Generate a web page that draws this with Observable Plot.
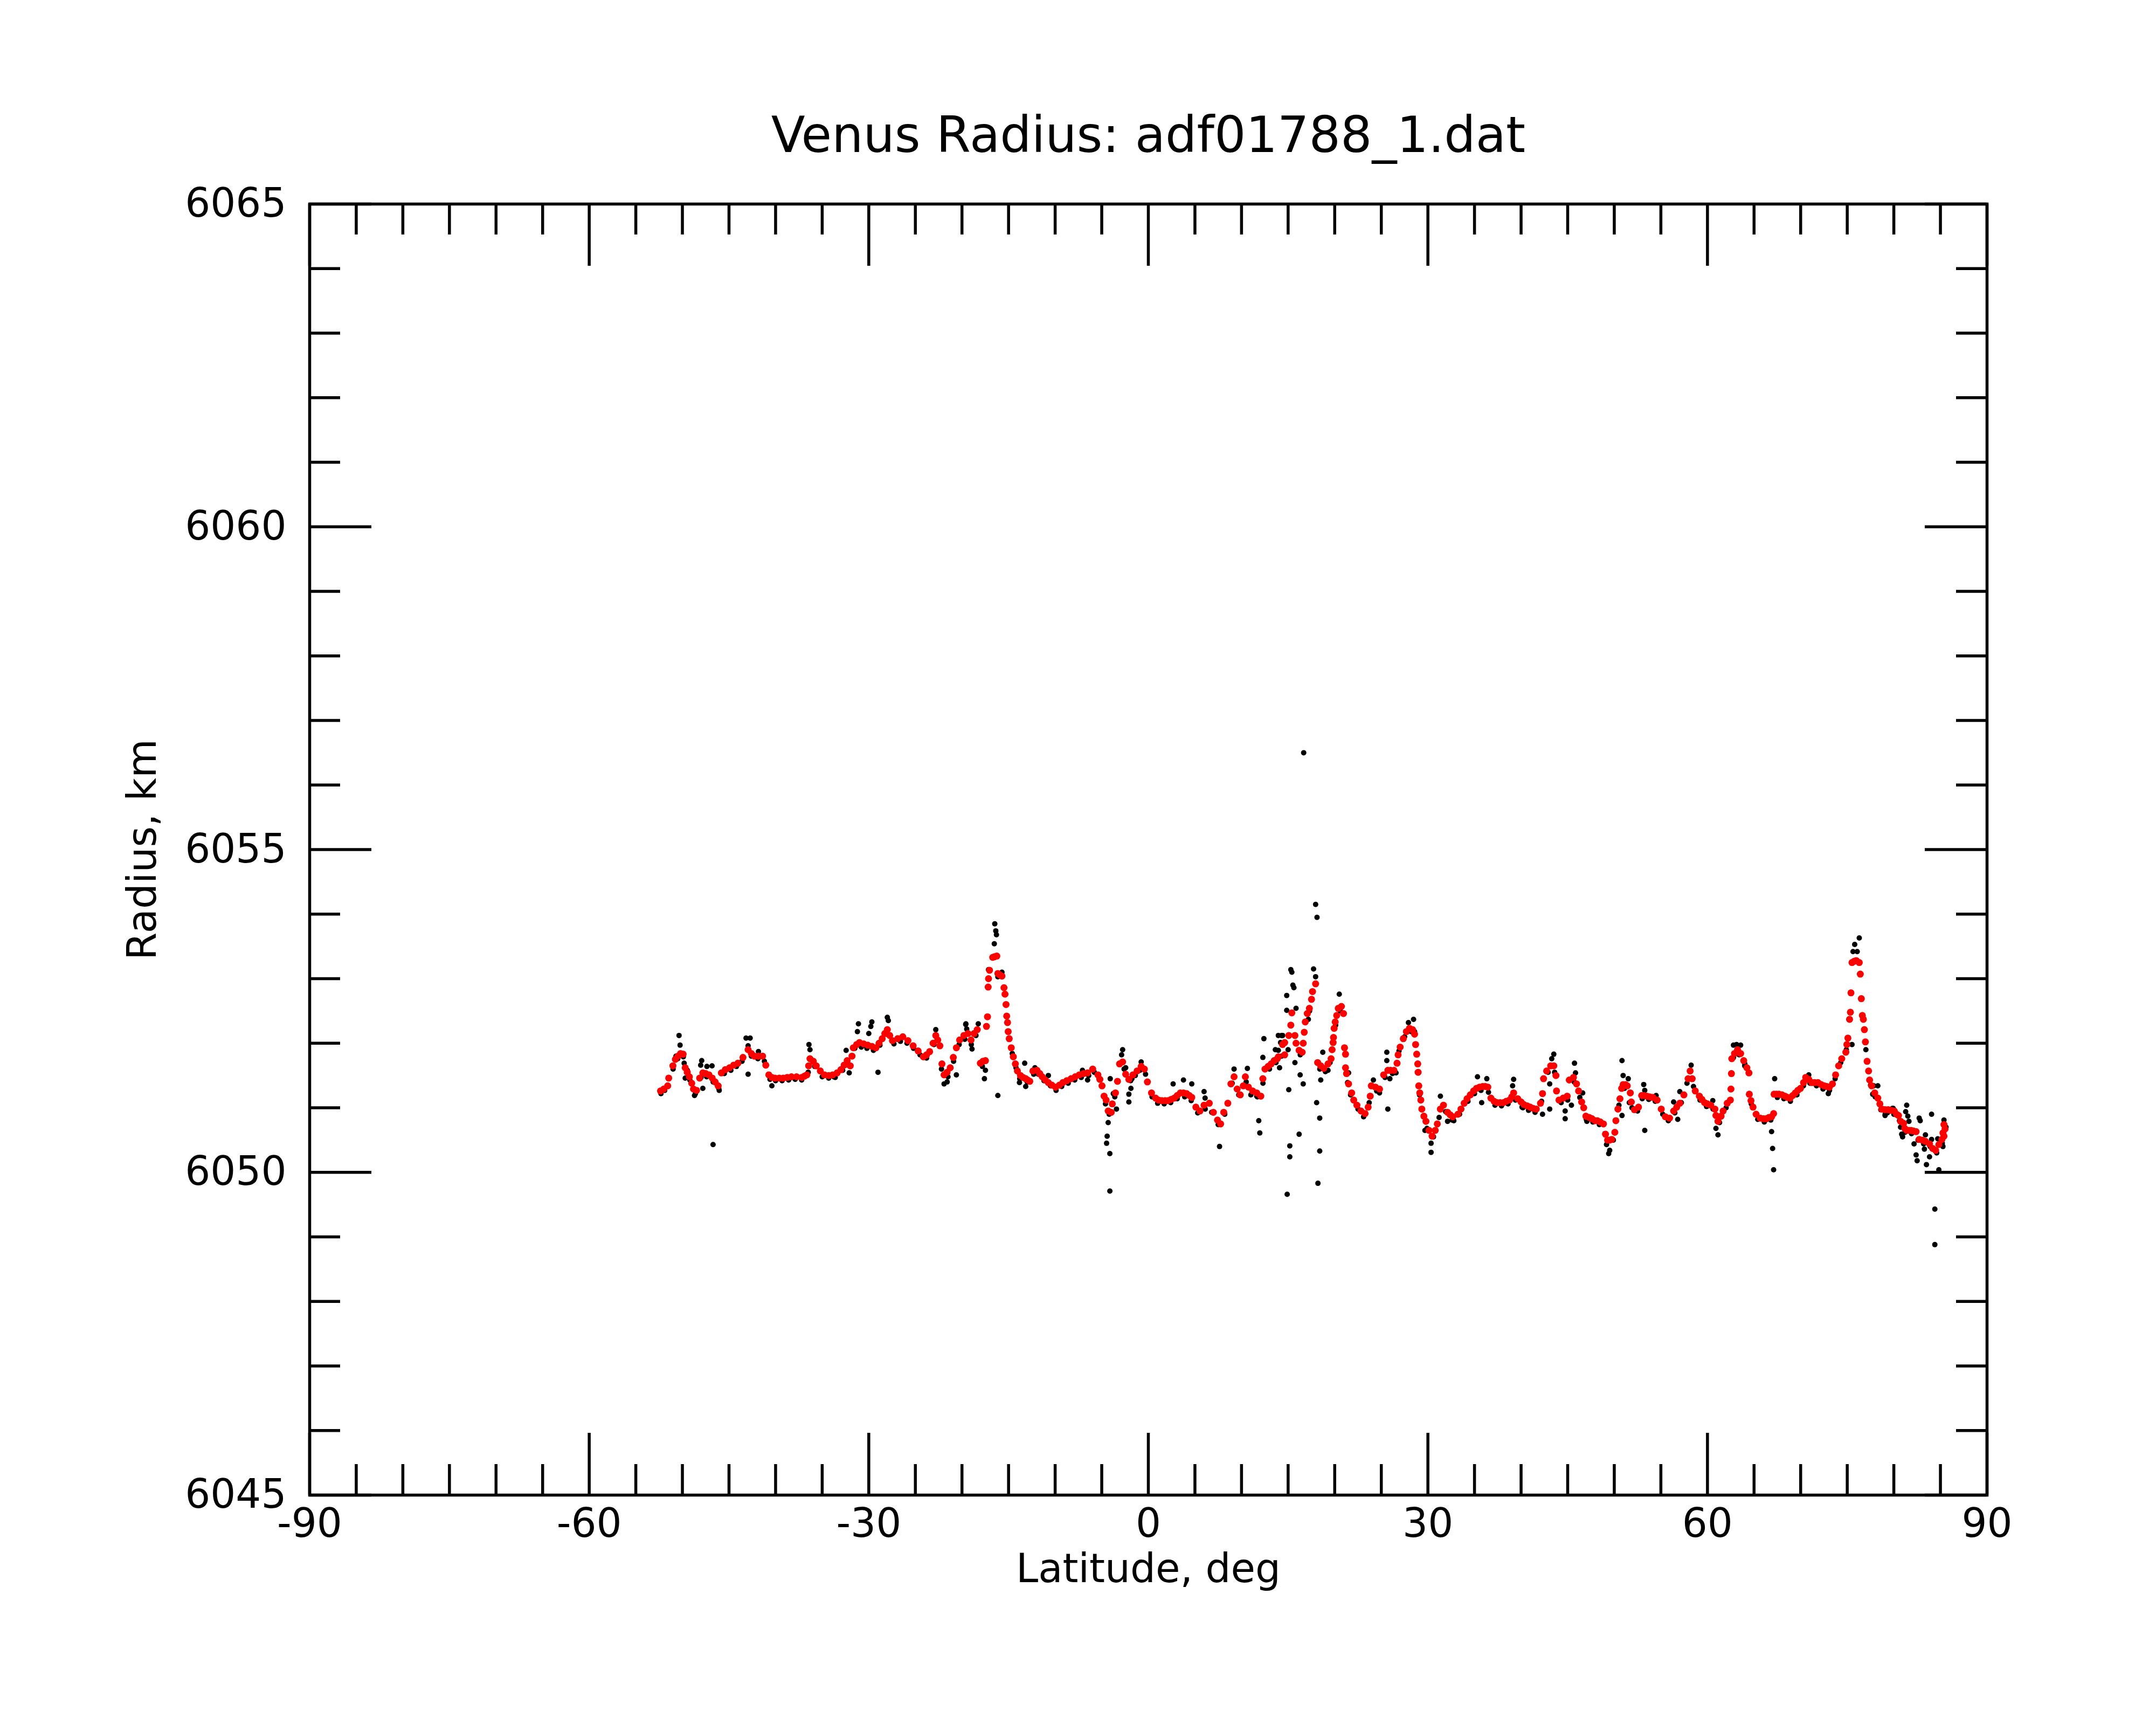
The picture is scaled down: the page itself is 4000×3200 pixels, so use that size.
<!DOCTYPE html>
<html>
<head>
<meta charset="utf-8">
<script src="https://cdn.jsdelivr.net/npm/d3@7"></script>
<script src="https://cdn.jsdelivr.net/npm/@observablehq/plot@0.6"></script>
<style>
  html, body { margin: 0; padding: 0; background: #fff; }
</style>
</head>
<body>
<div id="chart"></div>
<script>
const titleText = "Venus Radius: adf01788_1.dat";
const xLabel = "Latitude, deg";
const yLabel = "Radius, km";
const xMajorTicks = [-90, -60, -30, 0, 30, 60, 90];
const xMinorTicks = [-85,-80,-75,-70,-65,-55,-50,-45,-40,-35,-25,-20,-15,-10,-5,5,10,15,20,25,35,40,45,50,55,65,70,75,80,85];
const yMajorTicks = [6045, 6050, 6055, 6060, 6065];
const yMinorTicks = [6046,6047,6048,6049,6051,6052,6053,6054,6056,6057,6058,6059,6061,6062,6063,6064];

// smoothed radius (red), [latitude, radius]
const smoothed = [
[-52.35,6051.26],[-52.0,6051.29],[-51.58,6051.34],[-51.47,6051.46],[-51.02,6051.65],[-50.75,6051.75],[-50.47,6051.80],[-50.2,6051.84],[-49.92,6051.83],[-49.70,6051.62],[-49.48,6051.55],[-49.25,6051.48],[-49.0,6051.38],[-48.81,6051.29],[-48.48,6051.27],[-48.15,6051.46],[-47.81,6051.54],[-47.5,6051.53],[-47.15,6051.51],[-46.8,6051.46],[-46.49,6051.40],[-46.16,6051.34],[-45.82,6051.54],[-45.4,6051.59],[-44.94,6051.62],[-44.5,6051.66],[-44.05,6051.69],[-43.5,6051.78],[-42.95,6051.90],[-42.6,6051.84],[-42.28,6051.80],[-41.85,6051.80],[-41.40,6051.80],[-41.05,6051.66],[-40.73,6051.51],[-40.4,6051.47],[-40.07,6051.46],[-39.6,6051.46],[-39.18,6051.46],[-38.75,6051.47],[-38.30,6051.48],[-37.75,6051.48],[-37.19,6051.47],[-36.9,6051.49],[-36.64,6051.51],[-36.45,6051.65],[-36.31,6051.76],[-35.95,6051.72],[-35.64,6051.65],[-35.2,6051.57],[-34.76,6051.51],[-34.3,6051.50],[-33.87,6051.51],[-33.4,6051.54],[-32.99,6051.59],[-32.65,6051.66],[-32.32,6051.73],[-31.99,6051.65],[-31.8,6051.80],[-31.66,6051.93],[-31.3,6051.98],[-31.0,6052.01],[-30.55,6051.99],[-30.11,6051.97],[-29.65,6051.95],[-29.23,6051.93],[-28.9,6052.00],[-28.56,6052.07],[-28.28,6052.15],[-28.01,6052.21],[-27.75,6052.12],[-27.46,6052.04],[-26.9,6052.07],[-26.35,6052.10],[-25.8,6052.04],[-25.24,6051.96],[-24.7,6051.88],[-24.14,6051.79],[-23.8,6051.82],[-23.47,6051.87],[-23.1,6052.00],[-22.81,6052.12],[-22.6,6052.05],[-22.37,6051.96],[-22.15,6051.68],[-21.92,6051.51],[-21.6,6051.55],[-21.26,6051.62],[-20.93,6051.78],[-20.60,6051.93],[-20.25,6052.05],[-19.80,6052.12],[-19.36,6052.15],[-19.03,6052.05],[-18.70,6052.15],[-18.36,6052.21],[-18.03,6051.69],[-17.75,6051.72],[-17.48,6051.73],[-17.37,6052.26],[-17.26,6052.41],[-17.19,6052.87],[-17.15,6053.00],[-17.04,6053.13],[-16.70,6053.33],[-16.5,6053.34],[-16.26,6053.35],[-16.15,6053.08],[-15.95,6053.06],[-15.71,6053.04],[-15.49,6052.86],[-15.38,6052.76],[-15.27,6052.60],[-15.20,6052.42],[-15.11,6052.32],[-15.04,6052.18],[-14.93,6052.07],[-14.71,6051.93],[-14.49,6051.79],[-14.27,6051.68],[-14.05,6051.57],[-13.72,6051.50],[-13.45,6051.47],[-13.16,6051.45],[-12.95,6051.43],[-12.72,6051.41],[-12.39,6051.57],[-11.95,6051.58],[-11.65,6051.53],[-11.39,6051.48],[-11.05,6051.43],[-10.73,6051.39],[-10.35,6051.35],[-9.95,6051.32],[-9.55,6051.35],[-9.18,6051.39],[-8.75,6051.42],[-8.29,6051.45],[-7.85,6051.48],[-7.41,6051.51],[-6.95,6051.53],[-6.52,6051.54],[-5.97,6051.60],[-5.41,6051.51],[-5.2,6051.44],[-4.97,6051.34],[-4.75,6051.18],[-4.53,6051.12],[-4.31,6050.95],[-3.98,6050.93],[-3.87,6051.06],[-3.53,6051.23],[-3.31,6051.41],[-3.09,6051.68],[-2.76,6051.71],[-2.43,6051.52],[-2.09,6051.44],[-1.65,6051.51],[-1.21,6051.57],[-0.77,6051.64],[-0.43,6051.60],[-0.10,6051.40],[0.34,6051.23],[0.78,6051.15],[1.1,6051.12],[1.45,6051.11],[1.8,6051.11],[2.11,6051.11],[2.45,6051.13],[2.78,6051.15],[3.1,6051.19],[3.44,6051.23],[3.77,6051.23],[4.10,6051.22],[4.4,6051.19],[4.66,6051.16],[5.10,6051.01],[5.54,6050.95],[5.98,6051.04],[6.54,6051.07],[6.98,6050.93],[7.42,6050.81],[7.76,6050.75],[8.09,6050.93],[8.53,6051.07],[8.86,6051.37],[9.20,6051.48],[9.53,6051.29],[9.86,6051.20],[10.19,6051.34],[10.41,6051.48],[10.74,6051.32],[11.19,6051.26],[11.63,6051.23],[12.07,6051.18],[12.29,6051.45],[12.52,6051.60],[12.85,6051.64],[13.18,6051.68],[13.5,6051.73],[13.84,6051.76],[13.96,6051.79],[14.40,6051.98],[14.63,6051.82],[14.63,6052.01],[15.07,6052.12],[15.29,6052.28],[15.40,6052.47],[15.73,6052.12],[15.85,6052.00],[16.18,6051.89],[16.51,6051.86],[16.62,6052.00],[16.73,6052.17],[16.84,6052.33],[17.06,6052.46],[17.28,6052.54],[17.51,6052.68],[17.62,6052.80],[17.95,6052.92],[18.17,6051.70],[18.50,6051.65],[18.83,6051.61],[19.28,6051.68],[19.61,6051.76],[19.72,6051.90],[19.83,6052.01],[19.87,6052.09],[19.94,6052.23],[20.05,6052.33],[20.21,6052.43],[20.38,6052.54],[20.72,6052.57],[20.94,6052.46],[21.05,6051.93],[21.16,6051.83],[21.16,6051.62],[21.27,6051.53],[21.49,6051.37],[21.82,6051.23],[22.04,6051.12],[22.38,6051.04],[22.82,6050.95],[23.26,6050.91],[23.59,6051.01],[23.81,6051.18],[23.93,6051.34],[24.37,6051.32],[24.81,6051.29],[25.25,6051.51],[25.70,6051.58],[26.0,6051.58],[26.36,6051.58],[26.69,6051.69],[26.80,6051.82],[27.02,6051.94],[27.36,6052.07],[27.69,6052.18],[28.02,6052.23],[28.35,6052.21],[28.57,6052.14],[28.68,6051.98],[28.80,6051.83],[28.91,6051.68],[28.95,6051.55],[29.02,6051.34],[29.13,6051.23],[29.24,6051.12],[29.35,6050.98],[29.57,6050.87],[29.79,6050.79],[30.12,6050.65],[30.45,6050.56],[30.79,6050.65],[31.01,6050.75],[31.34,6050.98],[31.67,6051.04],[32.11,6050.93],[32.4,6050.89],[32.67,6050.86],[33.22,6050.90],[33.55,6050.98],[33.89,6051.07],[34.2,6051.14],[34.55,6051.20],[34.9,6051.26],[35.21,6051.30],[35.55,6051.32],[35.88,6051.33],[36.15,6051.33],[36.43,6051.32],[36.76,6051.15],[37.1,6051.10],[37.43,6051.08],[37.75,6051.08],[38.09,6051.08],[38.4,6051.10],[38.76,6051.12],[39.0,6051.17],[39.20,6051.23],[39.64,6051.14],[40.0,6051.09],[40.30,6051.05],[40.65,6051.03],[40.97,6051.01],[41.3,6050.99],[41.63,6050.98],[42.08,6051.07],[42.30,6051.22],[42.41,6051.45],[42.74,6051.57],[43.18,6051.65],[43.51,6051.65],[43.74,6051.50],[43.80,6051.26],[44.07,6051.12],[44.51,6051.15],[44.95,6051.18],[45.17,6051.43],[45.62,6051.47],[45.95,6051.37],[46.17,6051.26],[46.50,6051.09],[46.72,6051.00],[46.95,6050.87],[47.3,6050.85],[47.61,6050.83],[47.94,6050.80],[48.18,6050.80],[48.5,6050.78],[48.84,6050.75],[49.06,6050.59],[49.28,6050.50],[49.5,6050.50],[49.73,6050.51],[50.06,6050.62],[50.17,6050.80],[50.39,6050.98],[50.61,6051.14],[50.79,6051.30],[50.95,6051.36],[51.2,6051.36],[51.39,6051.34],[51.72,6051.23],[51.83,6051.09],[52.16,6050.97],[52.60,6051.01],[52.94,6051.19],[53.2,6051.19],[53.49,6051.18],[53.8,6051.17],[54.15,6051.16],[54.60,6051.12],[55.04,6050.98],[55.48,6050.86],[55.93,6050.84],[56.37,6050.95],[56.7,6051.01],[57.03,6051.07],[57.47,6051.20],[57.92,6051.45],[58.14,6051.57],[58.36,6051.45],[58.69,6051.26],[59.13,6051.18],[59.4,6051.13],[59.69,6051.08],[60.0,6051.06],[60.35,6051.04],[60.80,6050.98],[60.91,6050.88],[61.13,6050.79],[61.46,6050.87],[61.68,6050.95],[62.12,6051.07],[62.46,6051.12],[62.52,6051.29],[62.57,6051.53],[62.61,6051.76],[62.90,6051.84],[63.23,6051.90],[63.56,6051.84],[63.89,6051.73],[64.23,6051.62],[64.45,6051.54],[64.49,6051.21],[64.67,6051.11],[64.89,6051.01],[65.22,6050.90],[65.66,6050.84],[66.0,6050.83],[66.33,6050.83],[66.6,6050.85],[66.88,6050.86],[67.10,6050.91],[67.15,6051.21],[67.40,6051.21],[67.66,6051.21],[68.0,6051.20],[68.32,6051.18],[68.6,6051.16],[68.87,6051.15],[69.15,6051.19],[69.43,6051.23],[69.7,6051.27],[69.98,6051.30],[70.31,6051.39],[70.54,6051.47],[70.87,6051.44],[71.20,6051.39],[71.5,6051.39],[71.86,6051.39],[72.2,6051.36],[72.53,6051.34],[72.8,6051.33],[73.08,6051.32],[73.41,6051.37],[73.75,6051.51],[74.08,6051.65],[74.41,6051.76],[74.85,6051.86],[74.96,6051.98],[75.07,6052.08],[75.25,6052.37],[75.34,6052.48],[75.40,6052.78],[75.51,6053.25],[75.75,6053.27],[75.96,6053.28],[76.29,6053.25],[76.40,6053.07],[76.51,6052.69],[76.62,6052.43],[76.73,6052.37],[76.84,6052.21],[76.95,6052.02],[77.13,6051.72],[77.29,6051.57],[77.40,6051.43],[77.62,6051.34],[77.95,6051.23],[78.28,6051.15],[78.5,6051.06],[78.72,6050.98],[79.05,6050.97],[79.39,6050.97],[79.7,6050.96],[80.05,6050.95],[80.29,6050.90],[80.50,6050.88],[80.73,6050.79],[81.05,6050.76],[81.17,6050.68],[81.38,6050.65],[81.62,6050.65],[81.84,6050.65],[82.1,6050.64],[82.39,6050.63],[82.72,6050.51],[83.05,6050.50],[83.39,6050.48],[83.83,6050.44],[84.16,6050.37],[84.49,6050.34],[84.83,6050.43],[85.16,6050.51],[85.27,6050.61],[85.38,6050.56],[85.49,6050.67],[85.38,6050.74]
];

// raw radius samples (black), [latitude, radius]
const raw = [
[-52.3,6051.22],[-51.9,6051.27],[-51.0,6051.6],[-50.5,6051.76],[-49.9,6051.79],[-49.2,6051.43],[-48.6,6051.22],[-48.0,6051.47],[-47.4,6051.48],[-46.7,6051.40],[-46.1,6051.3],[-45.5,6051.53],[-44.8,6051.58],[-44.2,6051.64],[-43.6,6051.72],[-42.6,6051.80],[-41.9,6051.76],[-41.2,6051.72],[-40.6,6051.44],[-40.0,6051.42],[-39.3,6051.42],[-38.6,6051.43],[-37.9,6051.44],[-37.2,6051.43],[-36.5,6051.55],[-35.8,6051.64],[-35.0,6051.48],[-34.3,6051.46],[-33.6,6051.47],[-32.8,6051.58],[-32.2,6051.66],[-31.5,6051.92],[-30.8,6051.94],[-30.2,6051.92],[-29.5,6051.89],[-28.8,6051.97],[-28.1,6052.14],[-27.3,6051.99],[-26.6,6052.03],[-25.9,6052.0],[-25.2,6051.92],[-24.5,6051.82],[-23.8,6051.77],[-23.0,6051.98],[-22.2,6051.6],[-21.5,6051.48],[-20.9,6051.72],[-20.3,6051.98],[-19.7,6052.06],[-19.0,6051.98],[-18.5,6052.12],[-14.6,6051.84],[-14.2,6051.62],[-13.8,6051.45],[-13.0,6051.40],[-12.3,6051.52],[-11.8,6051.52],[-11.2,6051.42],[-10.5,6051.34],[-9.9,6051.27],[-9.3,6051.33],[-8.6,6051.38],[-7.9,6051.43],[-7.2,6051.47],[-6.4,6051.5],[-5.8,6051.55],[-5.3,6051.45],[-4.6,6051.06],[-4.2,6050.9],[-3.6,6051.17],[-2.6,6051.6],[-1.9,6051.42],[-1.4,6051.5],[-0.9,6051.58],[-0.3,6051.52],[0.4,6051.17],[1.0,6051.07],[1.7,6051.06],[2.4,6051.08],[3.1,6051.14],[3.9,6051.17],[4.6,6051.11],[5.3,6050.92],[6.1,6050.98],[6.8,6050.93],[7.5,6050.74],[8.2,6050.9],[9.0,6051.38],[9.7,6051.2],[10.5,6051.4],[11.0,6051.2],[11.7,6051.17],[12.3,6051.38],[13.0,6051.6],[13.7,6051.7],[14.3,6051.8],[15.0,6051.9],[16.3,6051.82],[17.3,6052.5],[18.4,6051.6],[19.0,6051.56],[19.5,6051.7],[20.1,6052.28],[20.6,6052.5],[21.7,6051.2],[22.5,6050.98],[23.1,6050.86],[23.7,6051.08],[24.5,6051.26],[25.4,6051.47],[26.2,6051.53],[26.9,6051.88],[27.5,6052.1],[28.2,6052.18],[29.1,6051.2],[29.9,6050.68],[30.6,6050.55],[31.2,6050.85],[31.9,6050.94],[32.6,6050.81],[33.4,6050.9],[34.3,6051.1],[35.0,6051.22],[35.7,6051.27],[36.5,6051.24],[37.2,6051.04],[37.9,6051.03],[38.6,6051.06],[39.4,6051.12],[40.1,6051.01],[40.8,6050.96],[41.5,6050.93],[42.2,6051.1],[42.9,6051.55],[43.6,6051.55],[44.3,6051.08],[45.0,6051.12],[45.7,6051.4],[46.3,6051.16],[47.0,6050.82],[47.7,6050.78],[48.4,6050.74],[49.0,6050.6],[49.9,6050.5],[50.5,6051.04],[51.1,6051.3],[51.9,6051.0],[52.5,6050.95],[53.0,6051.14],[53.7,6051.13],[54.4,6051.1],[55.2,6050.9],[55.8,6050.8],[56.5,6050.92],[57.2,6051.08],[57.8,6051.38],[58.5,6051.33],[59.2,6051.12],[59.9,6051.02],[60.6,6050.98],[61.3,6050.77],[62.0,6051.0],[62.8,6051.78],[63.4,6051.82],[64.0,6051.65],[64.7,6051.06],[65.4,6050.82],[66.1,6050.78],[66.8,6050.81],[67.5,6051.16],[68.2,6051.14],[68.9,6051.1],[69.6,6051.2],[70.3,6051.34],[71.0,6051.38],[71.7,6051.34],[72.4,6051.29],[73.1,6051.27],[73.7,6051.45],[74.3,6051.7],[74.9,6051.9],[77.0,6051.9],[77.5,6051.35],[78.0,6051.17],[78.6,6050.97],[79.3,6050.92],[80.0,6050.9],[80.6,6050.8],[81.2,6050.62],[81.9,6050.6],[82.6,6050.5],[83.2,6050.44],[83.9,6050.4],[84.6,6050.3],[85.2,6050.45],
[-50.36,6052.12],[-50.25,6051.97],[-50.69,6051.80],[-49.81,6051.69],[-49.70,6051.46],[-49.47,6051.58],[-48.70,6051.19],[-47.93,6051.73],[-48.04,6051.66],[-47.37,6051.64],[-46.82,6051.65],[-47.81,6051.30],[-46.71,6050.43],[-46.05,6051.27],[-43.17,6052.08],[-42.73,6052.08],[-42.95,6051.96],[-42.95,6051.52],[-41.84,6051.87],[-40.40,6051.34],[-36.42,6051.98],[-36.31,6051.90],[-33.76,6051.48],[-32.43,6051.89],[-32.10,6051.54],[-31.11,6052.30],[-31.22,6052.18],[-29.67,6052.33],[-29.78,6052.26],[-30.0,6052.15],[-29.01,6051.55],[-30.33,6051.96],[-28.01,6052.40],[-27.90,6052.35],[-22.81,6052.21],[-21.92,6051.37],[-21.59,6051.40],[-19.60,6052.29],[-19.49,6052.22],[-20.60,6051.51],
[-16.48,6053.85],[-16.37,6053.74],[-16.30,6053.68],[-16.53,6053.54],[-17.15,6053.14],[-15.71,6053.10],[-16.15,6053.03],[-19.58,6052.30],[-18.25,6052.30],[-18.92,6051.91],[-17.59,6051.45],[-17.48,6051.58],[-16.15,6051.19],[-17.81,6051.64],[-13.83,6051.39],[-13.27,6051.69],[-13.16,6051.33],[-12.17,6051.62],[-10.73,6051.50],[-7.07,6051.58],[-6.52,6051.43],[-4.09,6051.45],[-4.31,6050.77],[-4.42,6050.56],[-4.48,6050.45],[-4.13,6050.29],[-4.13,6049.71],[-3.76,6051.22],[-3.42,6050.98],[-2.76,6051.90],[-2.87,6051.82],[-2.43,6051.62],[-2.09,6051.21],[-2.09,6051.09],[-1.87,6051.30],[-1.76,6051.45],[-0.77,6051.71],[0.45,6051.18],[2.66,6051.37],[3.77,6051.43],[4.66,6051.37],[5.98,6051.25],[6.09,6051.15],[7.64,6050.40],[9.20,6051.60],[10.63,6051.61],[11.63,6051.18],[11.85,6050.80],[11.96,6050.61],[12.40,6052.07],[12.29,6051.78],[13.95,6052.12],[14.29,6052.12],[13.95,6051.89],
[16.67,6056.50],[17.95,6054.15],[18.1,6053.95],[15.29,6053.14],[15.40,6053.10],[15.51,6052.90],[15.62,6052.86],[14.85,6052.74],[14.85,6052.51],[15.85,6052.54],[14.41,6052.12],[14.19,6052.01],[13.63,6051.90],[14.08,6051.62],[15.73,6051.70],[16.29,6051.51],[16.62,6051.37],[15.07,6051.28],[16.18,6050.59],[15.18,6050.41],[15.18,6050.24],[14.9,6049.66],[17.73,6053.15],[17.95,6053.03],[17.51,6052.68],[17.17,6052.37],[18.72,6051.86],[18.50,6051.43],[18.06,6051.08],[18.39,6050.84],[18.39,6050.33],[18.2,6049.83],[19.28,6051.58],[20.49,6052.76],[21.49,6051.54],[21.38,6051.39],[24.15,6051.43],[24.81,6051.23],[25.70,6050.98],[25.59,6051.86],[25.59,6051.73],[25.92,6051.45],[26.58,6051.54],[27.91,6052.32],[28.46,6052.37],[28.57,6052.18],[29.68,6050.65],[30.34,6050.45],[30.34,6050.31],[31.34,6051.18],[32.11,6050.79],[32.78,6050.80],[35.32,6051.48],[36.32,6051.45],[35.77,6051.08],[39.20,6051.44],[39.09,6051.34],[40.19,6051.00],[42.30,6050.90],[43.07,6051.37],[43.29,6051.76],[43.51,6051.83],[43.07,6050.98],[44.73,6050.95],[44.73,6050.83],[45.40,6051.04],[45.73,6051.69],[45.84,6051.54],[46.61,6051.23],[47.06,6050.79],
[49.40,6050.29],[49.51,6050.34],[49.17,6050.43],[50.83,6051.73],[50.95,6051.50],[51.50,6051.45],[51.61,6051.08],[50.83,6050.88],[53.16,6051.36],[53.27,6051.27],[53.27,6050.65],[54.49,6051.19],[56.37,6051.09],[56.81,6050.82],[57.03,6051.25],[58.25,6051.66],[60.57,6051.11],[60.91,6050.68],[61.13,6050.58],[63.12,6051.98],[63.56,6051.97],[62.79,6051.97],[64.01,6051.68],[67.21,6051.45],[66.88,6050.63],[66.99,6050.37],[67.10,6050.04],[70.87,6051.51],[72.97,6051.22],[76.29,6053.63],[75.80,6053.53],[75.62,6053.42],[76.07,6053.42],[75.18,6052.37],[75.51,6051.98],[78.28,6051.34],[77.73,6051.21],[79.06,6050.88],[79.94,6050.99],[80.72,6050.70],[80.94,6050.55],[81.38,6051.04],[81.27,6050.94],
[81.50,6050.87],[81.62,6050.79],[82.72,6050.84],[82.83,6050.80],[84.05,6050.90],[83.39,6050.58],[84.05,6050.51],[84.71,6050.52],[82.39,6050.27],[82.50,6050.18],[83.50,6050.12],[83.83,6050.24],[83.28,6050.36],[84.83,6050.04],[82.17,6050.44],[85.38,6050.81],[85.6,6050.70],[85.27,6050.40],[77.85,6051.34],[79.07,6050.90],[79.84,6050.99],[80.84,6050.59],[84.4,6049.43],[84.4,6048.88]
];

const W = 4000, H = 3200;
const mL = 574, mR = 314, mT = 378, mB = 427;
const innerW = W - mL - mR, innerH = H - mT - mB;
const majorLen = 115, minorLen = 57, sw = 5.5;

const chart = Plot.plot({
  width: W, height: H,
  marginLeft: mL, marginRight: mR, marginTop: mT, marginBottom: mB,
  x: {domain: [-90, 90]},
  y: {domain: [6045, 6065]},
  style: {fontFamily: "'DejaVu Sans', sans-serif", fontSize: "74px", color: "black", background: "white"},
  marks: [
    Plot.dot(raw, {x: d => d[0], y: d => d[1], r: 5, fill: "black", stroke: "none"}),
    Plot.dot(smoothed, {x: d => d[0], y: d => d[1], r: 6.5, fill: "#ff0000", stroke: "none"}),
    // inward ticks, bottom and top
    Plot.tickX(xMajorTicks, {x: d => d, insetTop: innerH - majorLen, stroke: "black", strokeWidth: sw}),
    Plot.tickX(xMajorTicks, {x: d => d, insetBottom: innerH - majorLen, stroke: "black", strokeWidth: sw}),
    Plot.tickX(xMinorTicks, {x: d => d, insetTop: innerH - minorLen, stroke: "black", strokeWidth: sw}),
    Plot.tickX(xMinorTicks, {x: d => d, insetBottom: innerH - minorLen, stroke: "black", strokeWidth: sw}),
    // inward ticks, left and right
    Plot.tickY(yMajorTicks, {y: d => d, insetRight: innerW - majorLen, stroke: "black", strokeWidth: sw}),
    Plot.tickY(yMajorTicks, {y: d => d, insetLeft: innerW - majorLen, stroke: "black", strokeWidth: sw}),
    Plot.tickY(yMinorTicks, {y: d => d, insetRight: innerW - minorLen, stroke: "black", strokeWidth: sw}),
    Plot.tickY(yMinorTicks, {y: d => d, insetLeft: innerW - minorLen, stroke: "black", strokeWidth: sw}),
    Plot.frame({stroke: "black", strokeWidth: sw}),
    Plot.axisX(xMajorTicks, {anchor: "bottom", tickSize: 0, tickPadding: 25, tickFormat: d => `${d}`, label: null}),
    Plot.axisY(yMajorTicks, {anchor: "left", tickSize: 0, tickPadding: 43, tickFormat: d => `${d}`, label: null}),
    Plot.text([titleText], {text: d => d, frameAnchor: "top", dy: -126, lineAnchor: "middle", fontSize: 92, fill: "black"}),
    Plot.text([xLabel], {text: d => d, frameAnchor: "bottom", dy: 138, lineAnchor: "middle", fontSize: 74, fill: "black"}),
    Plot.text([yLabel], {text: d => d, frameAnchor: "left", dx: -309, rotate: -90, textAnchor: "middle", lineAnchor: "middle", fontSize: 74, fill: "black"})
  ]
});
document.getElementById("chart").appendChild(chart);
</script>
</body>
</html>
